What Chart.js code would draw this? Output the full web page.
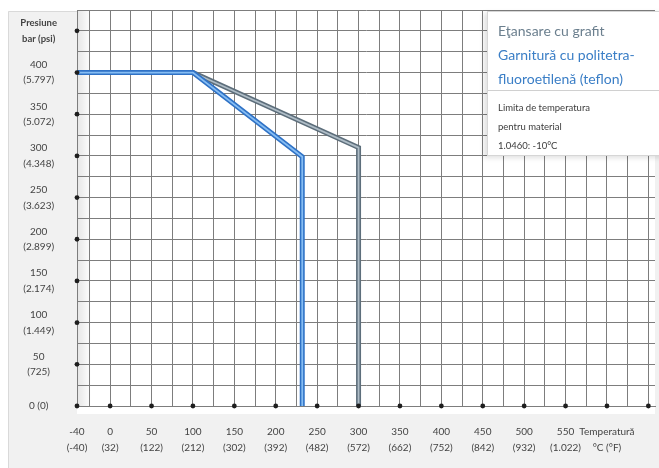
<!DOCTYPE html>
<html>
<head>
<meta charset="utf-8">
<script src="https://cdn.jsdelivr.net/npm/chart.js@4/dist/chart.umd.min.js"></script>
<style>
  html, body { margin: 0; padding: 0; background: #ffffff; }
  #wrap { position: relative; width: 659px; height: 468px; overflow: hidden; }
  #c { position: absolute; left: 0; top: 0; }
  #legend {
    position: absolute; left: 487px; top: 11px; width: 180px; height: 145px;
    background: #ffffff; border: 1px solid #d6d6d6; box-sizing: border-box;
    box-shadow: -3px 2px 5px rgba(0,0,0,0.12);
    font-family: Lato, "Open Sans", sans-serif;
  }
  #legend .top { height: 79px; border-bottom: 1px solid #d0d0d0; padding: 7px 0 0 10px; box-sizing: border-box; }
  #legend .series { font-size: 14px; line-height: 24px; margin: 0; }
  #legend .note { padding: 7px 0 0 10px; font-size: 9.5px; line-height: 19px; color: #3c3c3c; }
</style>
</head>
<body>
<div id="wrap">
  <canvas id="c" width="659" height="468"></canvas>
  <div id="legend"><div class="top" id="legTop"></div><div class="note" id="legNote"></div></div>
</div>
<script>
// ---- Data ----
const seriesNames = ["Eţansare cu grafit", "Garnitură cu politetra-\nfluoroetilenă (teflon)"];
const graphiteTemp = [-40, 100, 300, 300];
const graphitePressure = [400, 400, 310, 0];
const ptfeTemp = [-40, 100, 232, 232];
const ptfePressure = [400, 400, 299, 0];

const xTickValues = [-40, 0, 50, 100, 150, 200, 250, 300, 350, 400, 450, 500, 550, 600, 650];
const xTickLabels = [["-40","(-40)"],["0","(32)"],["50","(122)"],["100","(212)"],["150","(302)"],["200","(392)"],
  ["250","(482)"],["300","(572)"],["350","(662)"],["400","(752)"],["450","(842)"],["500","(932)"],["550","(1.022)"],
  ["Temperatură","°C (°F)"],""];
const yTickValues = [0, 50, 100, 150, 200, 250, 300, 350, 400, 450];
const yTickLabels = ["0 (0)",["50","(725)"],["100","(1.449)"],["150","(2.174)"],["200","(2.899)"],["250","(3.623)"],
  ["300","(4.348)"],["350","(5.072)"],["400","(5.797)"],["Presiune","bar (psi)"]];
const noteLines = ["Limita de temperatura", "pentru material", "1.0460: -10°C"];

// ---- Scale limits / grid steps ----
const xMin = -40, xMax = 658, yMin = 0, yMax = 475, gridStep = 25;

function gridValues(min, max, step) {
  const out = [min];
  for (let v = Math.ceil(min / step) * step; v <= max; v += step) { if (v !== min) out.push(v); }
  return out;
}
const pts = (xs, ys) => xs.map((x, i) => ({ x: x, y: ys[i] }));

const dots = xTickValues.map(v => ({ x: v, y: yMin }))
  .concat(yTickValues.filter(v => v !== yMin).map(v => ({ x: xMin, y: v })));

// legend html
const colors = ["#6b7f8e", "#3a7ec6"];
const legTop = document.getElementById('legTop');
seriesNames.forEach((n, i) => {
  n.split("\n").forEach(line => {
    const d = document.createElement('div');
    d.className = 'series'; d.style.color = colors[i]; d.textContent = line;
    legTop.appendChild(d);
  });
});
const legNote = document.getElementById('legNote');
noteLines.forEach(l => { const d = document.createElement('div'); d.textContent = l; legNote.appendChild(d); });

const bgPlugin = {
  id: 'bg',
  beforeDraw(chart) {
    const { ctx, chartArea: a } = chart;
    ctx.save();
    ctx.fillStyle = '#ffffff';
    ctx.fillRect(0, 0, chart.width, chart.height);
    ctx.fillStyle = '#f1f1f1';
    ctx.fillRect(8, 11, chart.width - 8, chart.height - 11);
    ctx.strokeStyle = '#d9d9d9';
    ctx.lineWidth = 1;
    ctx.beginPath(); ctx.moveTo(8.5, chart.height); ctx.lineTo(8.5, 11.5); ctx.lineTo(chart.width, 11.5); ctx.stroke();
    ctx.fillStyle = '#ffffff';
    ctx.fillRect(a.left, a.top, a.right - a.left, a.bottom - a.top + 8);
    const g = ctx.createLinearGradient(a.left, 0, a.left + 14, 0);
    g.addColorStop(0, 'rgba(0,0,0,0.10)'); g.addColorStop(1, 'rgba(0,0,0,0)');
    ctx.fillStyle = g;
    ctx.fillRect(a.left, a.top, 14, a.bottom - a.top);
    ctx.restore();
  }
};

const textColor = '#444444';
const gridColor = '#7d7d7d';

new Chart(document.getElementById('c'), {
  type: 'scatter',
  data: {
    datasets: [
      { data: dots, pointRadius: 2.4, pointBackgroundColor: '#1e1e1e', pointBorderWidth: 0, showLine: false, clip: false, order: 0 },
      { data: pts(ptfeTemp, ptfePressure), showLine: true, borderColor: '#86bdf3', borderWidth: 1.8, pointRadius: 0, borderJoinStyle: 'miter', order: 1 },
      { data: pts(ptfeTemp, ptfePressure), showLine: true, borderColor: '#2f72c6', borderWidth: 5, pointRadius: 0, borderJoinStyle: 'miter', order: 2 },
      { data: pts(graphiteTemp, graphitePressure), showLine: true, borderColor: '#afbdc7', borderWidth: 1.8, pointRadius: 0, borderJoinStyle: 'miter', order: 3 },
      { data: pts(graphiteTemp, graphitePressure), showLine: true, borderColor: '#5d6e7b', borderWidth: 5, pointRadius: 0, borderJoinStyle: 'miter', order: 4 }
    ]
  },
  options: {
    responsive: false,
    animation: false,
    events: [],
    layout: { padding: { top: 10, left: 0, right: 0, bottom: 0 } },
    plugins: { legend: { display: false }, tooltip: { enabled: false } },
    scales: {
      x: {
        type: 'linear', min: xMin, max: xMax,
        afterBuildTicks: s => { s.ticks = gridValues(xMin, xMax, gridStep).map(v => ({ value: v })); },
        afterFit: s => { s.height = 62; s.paddingLeft = 0; s.paddingRight = 0; },
        grid: { color: gridColor, lineWidth: 1, drawTicks: false },
        border: { color: gridColor },
        ticks: {
          autoSkip: false, maxRotation: 0, padding: 18, color: textColor,
          font: { family: 'Lato', size: 10, lineHeight: 1.6 },
          callback: v => { const i = xTickValues.indexOf(v); return i >= 0 ? xTickLabels[i] : ''; }
        }
      },
      y: {
        type: 'linear', min: yMin, max: yMax,
        afterBuildTicks: s => { s.ticks = gridValues(yMin, yMax, gridStep).map(v => ({ value: v })); },
        afterFit: s => { s.width = 77; s.paddingTop = 0; s.paddingBottom = 0; },
        grid: { color: gridColor, lineWidth: 1, drawTicks: false },
        border: { color: gridColor },
        ticks: {
          autoSkip: false, padding: 20, color: textColor, crossAlign: 'center',
          font: ctx => (ctx.tick && ctx.tick.value === 450)
            ? { family: 'Lato', size: 9.5, weight: 'bold', lineHeight: 1.6 }
            : { family: 'Lato', size: 10, lineHeight: 1.55 },
          callback: v => { const i = yTickValues.indexOf(v); return i >= 0 ? yTickLabels[i] : ''; }
        }
      }
    }
  },
  plugins: [bgPlugin]
});
</script>
</body>
</html>
